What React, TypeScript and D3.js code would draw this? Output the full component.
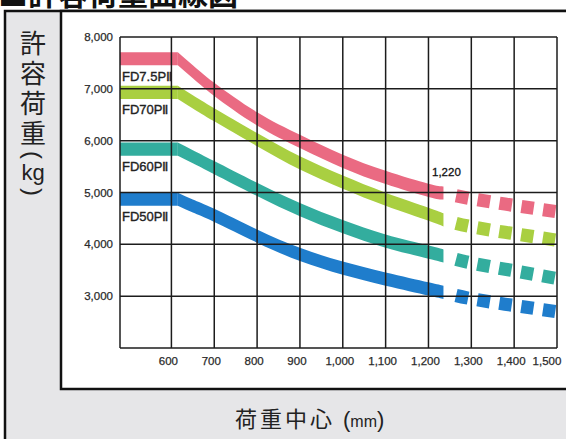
import React from 'react';
import * as d3 from 'd3';

const W = 566;
const H = 439;

// load centre (mm) for the solid part of each curve, and the dashed extension
const loadCenters = [480, 615, 650, 700, 800, 900, 1000, 1100, 1200, 1235];
const extCenters = [1235, 1300, 1400, 1500];

// allowable load (kg)
const fd75Solid = [7580, 7580, 7330, 6990, 6420, 5985, 5600, 5290, 5040, 4990];
const fd70Solid = [6930, 6930, 6750, 6500, 6020, 5570, 5200, 4870, 4580, 4470];
const fd60Solid = [5835, 5835, 5690, 5480, 5060, 4670, 4340, 4060, 3850, 3775];
const fd50Solid = [4870, 4870, 4740, 4560, 4160, 3805, 3540, 3330, 3140, 3075];

const fd75Ext = [4990, 4880, 4750, 4630];
const fd70Ext = [4470, 4340, 4205, 4080];
const fd60Ext = [3775, 3640, 3490, 3340];
const fd50Ext = [3075, 2950, 2820, 2700];

const models = ['FD7.5PⅡ', 'FD70PⅡ', 'FD60PⅡ', 'FD50PⅡ'];
const colors = ['#ea6a82', '#a9cf41', '#33ad9e', '#1f7dcc'];

const xTicks = [600, 700, 800, 900, 1000, 1100, 1200, 1300, 1400, 1500];
const yTicks = [3000, 4000, 5000, 6000, 7000, 8000];
const markLoad = 1220;

const yTitle = ['許', '容', '荷', '重'];

const latin = '"Liberation Sans", Arial, sans-serif';
const cjk = '"Noto Sans CJK JP", "Noto Sans CJK SC", sans-serif';

type Pt = [number, number];

export default function App() {
  const x = d3.scaleLinear().domain([480, 1500]).range([120, 557]);
  const y = d3.scaleLinear().domain([2000, 8000]).range([348, 37]);
  const half = 6.6; // half band thickness

  const solid = [fd75Solid, fd70Solid, fd60Solid, fd50Solid];
  const ext = [fd75Ext, fd70Ext, fd60Ext, fd50Ext];

  // flat part (straight) and the falling part (smooth) are drawn separately
  const flatBand = d3
    .area<Pt>()
    .x((d) => x(d[0]))
    .y0((d) => y(d[1]) + half)
    .y1((d) => y(d[1]) - half);

  const curveBand = d3
    .area<Pt>()
    .x((d) => x(d[0]))
    .y0((d) => y(d[1]) + half)
    .y1((d) => y(d[1]) - half)
    .curve(d3.curveNatural);

  const dashLine = d3
    .line<Pt>()
    .x((d) => x(d[0]))
    .y((d) => y(d[1]))
    .curve(d3.curveNatural);

  const fmt = d3.format(',');
  const grid = '#1c1c1c';

  return (
    <svg
      width={W}
      height={H}
      style={{ position: 'absolute', left: 0, top: 0, display: 'block' }}
    >
      <rect x={0} y={0} width={W} height={H} fill="#ffffff" />

      {/* title, cut off by the top edge */}
      <text x={-2} y={5} fontFamily={cjk} fontSize={30} fontWeight={700} fill="#111">
        ■許容荷重曲線図
      </text>

      {/* frames */}
      <rect x={5} y={11} width={W + 10} height={H} fill="#e6e6e8" stroke="#111" strokeWidth={2.5} />
      <rect x={61} y={11} width={W} height={378} fill="#ffffff" stroke="#111" strokeWidth={2.5} />

      {/* bands */}
      {solid.map((s, k) => {
        const pts: Pt[] = loadCenters.map((c, i) => [c, s[i]]);
        const extPts: Pt[] = extCenters.map((c, i) => [c, ext[k][i]]);
        return (
          <g key={models[k]} fill={colors[k]}>
            <path d={flatBand(pts.slice(0, 2)) || ''} />
            <path d={curveBand(pts.slice(1)) || ''} />
            <path
              d={dashLine(extPts) || ''}
              fill="none"
              stroke={colors[k]}
              strokeWidth={half * 2}
              strokeDasharray="0 13 12.5 9.5 12.5 9.5 12.5 9.5 12.5 9.5 12.5 9.5 12.5 60"
            />
          </g>
        );
      })}

      {/* grid */}
      <g stroke={grid} strokeWidth={1.5}>
        {yTicks.map((t) => (
          <line key={'h' + t} x1={x(480)} x2={x(1500)} y1={y(t)} y2={y(t)} />
        ))}
        {xTicks.map((t) => (
          <line key={'v' + t} x1={x(t)} x2={x(t)} y1={y(8000)} y2={y(2000)} />
        ))}
        <line x1={x(480)} x2={x(480)} y1={y(8000)} y2={y(2000)} />
        <line x1={x(480)} x2={x(1500)} y1={y(2000)} y2={y(2000)} />
      </g>

      {/* y tick labels */}
      <g fontFamily={latin} fontSize={11.5} fill="#2a2a2a" stroke="#2a2a2a" strokeWidth={0.25} textAnchor="end">
        {yTicks.map((t) => (
          <text key={t} x={x(480) - 7} y={y(t) + 4}>
            {fmt(t)}
          </text>
        ))}
      </g>

      {/* x tick labels */}
      <g fontFamily={latin} fontSize={11.5} fill="#2a2a2a" stroke="#2a2a2a" strokeWidth={0.25} textAnchor="middle">
        {xTicks.map((t, i) => (
          <text key={t} x={x(t) - (i === xTicks.length - 1 ? 10 : 3)} y={365}>
            {fmt(t)}
          </text>
        ))}
      </g>

      {/* model labels */}
      <g fontFamily={latin} fontSize={13} fill="#222" stroke="#222" strokeWidth={0.35}>
        {solid.map((s, k) => (
          <text key={models[k]} x={x(480) + 2} y={y(s[0]) + 22}>
            {models[k]}
          </text>
        ))}
      </g>

      <text
        x={x(markLoad) - 5}
        y={y(fd75Solid[fd75Solid.length - 1]) - 17}
        fontFamily={latin}
        fontSize={11.5}
        fill="#111"
        stroke="#111"
        strokeWidth={0.3}
      >
        {fmt(markLoad)}
      </text>

      {/* y axis title */}
      <g fontFamily={cjk} fontSize={26} fill="#222" textAnchor="middle">
        {yTitle.map((c, i) => (
          <text key={c + i} x={33} y={53 + i * 30}>
            {c}
          </text>
        ))}
        <text x={0} y={0} fontFamily={latin} fontSize={24} transform="translate(33,155) rotate(90)" dy={8}>
          (
        </text>
        <text x={33} y={180} fontFamily={latin} fontSize={22}>
          kg
        </text>
        <text x={0} y={0} fontFamily={latin} fontSize={24} transform="translate(33,192) rotate(90)" dy={8}>
          )
        </text>
      </g>

      {/* x axis title */}
      <text x={235} y={427} fontFamily={cjk} fontSize={22} fill="#222" letterSpacing={3}>
        荷重中心
        <tspan dx={8} fontFamily={latin} fontSize={22} letterSpacing={0}>(</tspan>
        <tspan fontFamily={latin} fontSize={16} letterSpacing={0}>mm</tspan>
        <tspan fontFamily={latin} fontSize={22} letterSpacing={0}>)</tspan>
      </text>
    </svg>
  );
}
